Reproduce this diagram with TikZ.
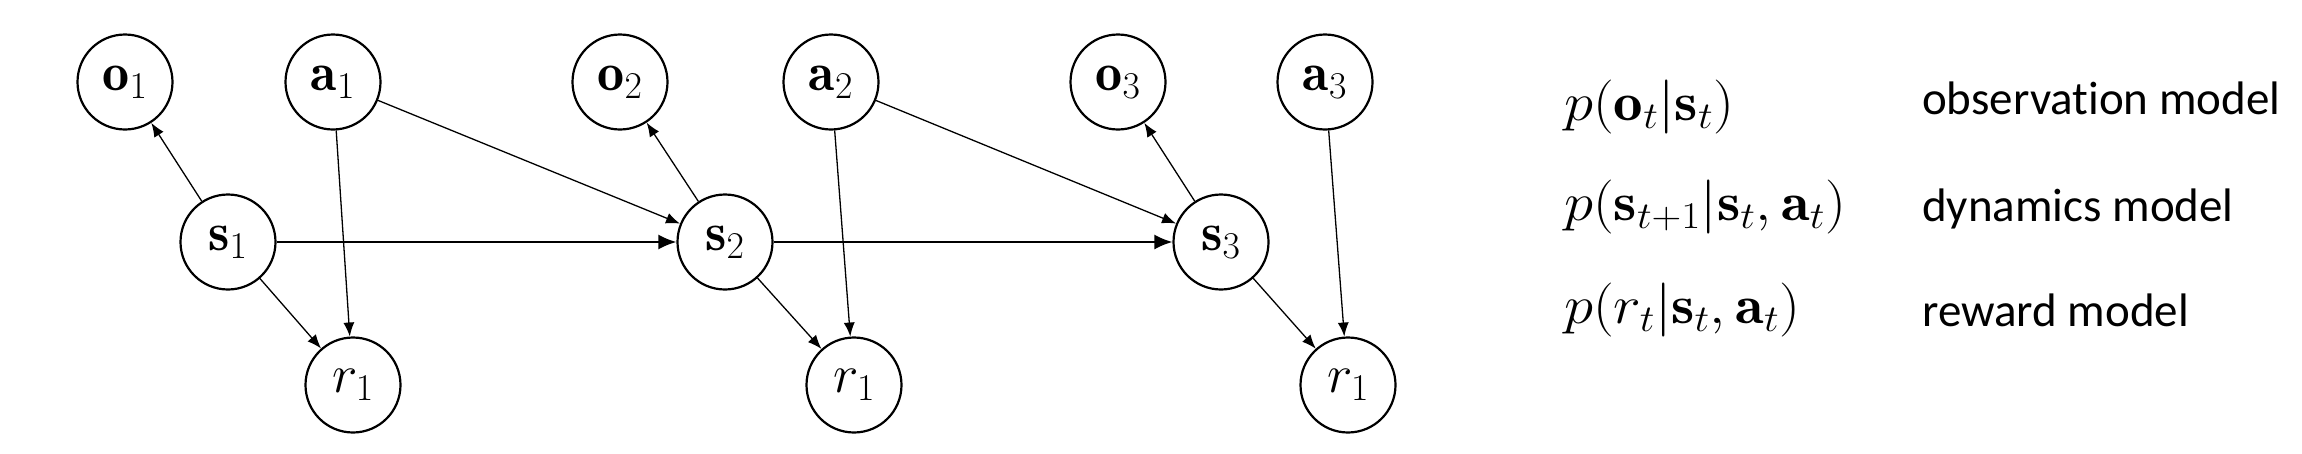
\RequirePackage{fix-cm}
\documentclass[tikz,border=0pt]{standalone}
\usepackage{graphicx}
\usepackage{fontspec}
\newfontfamily\calibri[Ligatures={NoCommon}]{Carlito}
\usetikzlibrary{arrows.meta}
\newcommand\wideformula[1]{\scalebox{1.09}[1]{$#1$}}
\begin{document}
\begin{tikzpicture}[x=1pt,y=-1pt,
  var/.style={circle,draw,line width=2.2pt,minimum size=95pt,inner sep=0pt,font=\fontsize{54}{64}\selectfont},
  edge/.style={-{Latex[length=14pt,width=11pt]},line width=1.3pt},
  chain/.style={-{Latex[length=18pt,width=15pt]},line width=2pt},
  formula/.style={anchor=base west,inner sep=0pt,font=\fontsize{54}{64}\selectfont},
  desc/.style={anchor=base west,inner sep=0pt,font=\calibri\fontsize{47}{56}\selectfont}]
\useasboundingbox (0,0) rectangle (2302,453);
% nodes
\node[var] (o1) at (125,82) {$\mathbf{o}_1$};
\node[var] (a1) at (333,82) {$\mathbf{a}_1$};
\node[var] (s1) at (228,242) {$\mathbf{s}_1$};
\node[var] (r1) at (353,385) {$r_1$};
\node[var] (o2) at (620,82) {$\mathbf{o}_2$};
\node[var] (a2) at (831,82) {$\mathbf{a}_2$};
\node[var] (s2) at (725,242) {$\mathbf{s}_2$};
\node[var] (r2) at (854,385) {$r_1$};
\node[var] (o3) at (1118,82) {$\mathbf{o}_3$};
\node[var] (a3) at (1325,82) {$\mathbf{a}_3$};
\node[var] (s3) at (1221,242) {$\mathbf{s}_3$};
\node[var] (r3) at (1348,385) {$r_1$};
% edges
\draw[edge] (s1) -- (o1);
\draw[edge] (s1) -- (r1);
\draw[edge] (a1) -- (r1);
\draw[edge] (a1) -- (s2);
\draw[chain] (s1) -- (s2);
\draw[edge] (s2) -- (o2);
\draw[edge] (s2) -- (r2);
\draw[edge] (a2) -- (r2);
\draw[edge] (a2) -- (s3);
\draw[chain] (s2) -- (s3);
\draw[edge] (s3) -- (o3);
\draw[edge] (s3) -- (r3);
\draw[edge] (a3) -- (r3);
% legend
\node[formula] (f1) at (1564,120) {\wideformula{p(\mathbf{o}_t|\mathbf{s}_t)}};
\node[formula] (f2) at (1564,220) {\wideformula{p(\mathbf{s}_{t+1}|\mathbf{s}_t,\mathbf{a}_t)}};
\node[formula] (f3) at (1564,323) {\wideformula{p(r_t|\mathbf{s}_t,\mathbf{a}_t)}};
\node[desc] (d1) at (1922,114) {observation model};
\node[desc] (d2) at (1922,221) {dynamics model};
\node[desc] (d3) at (1922,326) {reward model};
\end{tikzpicture}
\end{document}
